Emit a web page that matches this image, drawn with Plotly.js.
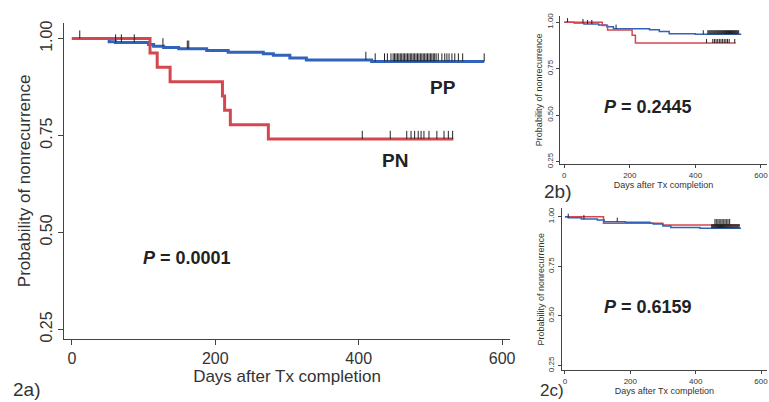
<!DOCTYPE html>
<html>
<head>
<meta charset="utf-8">
<script src="https://cdn.plot.ly/plotly-3.0.1.min.js"></script>
<style>html,body{margin:0;padding:0;background:#fff;}#chart{width:769px;height:402px;}</style>
</head>
<body>
<div id="chart"></div>
<script>
// ---------- Panel 2a ----------
const aPPTime = [0, 52, 61, 107, 114, 128, 149, 188, 218, 267, 281, 304, 327, 418, 575];
const aPPSurv = [1.0, 0.992, 0.990, 0.985, 0.980, 0.977, 0.974, 0.969, 0.965, 0.961, 0.957, 0.950, 0.945, 0.941, 0.941];
const aPNTime = [0, 109, 119, 137, 210, 213, 221, 274, 532];
const aPNSurv = [1.0, 0.963, 0.926, 0.889, 0.852, 0.815, 0.778, 0.741, 0.741];
const aPPCens = [11, 61, 69, 87, 127, 161, 163, 410, 423, 436, 440, 445, 448, 450, 452, 454, 456, 458, 460, 462, 464, 466, 468, 470, 472, 474, 476, 478, 480, 482, 484, 486, 488, 490, 492, 494, 496, 498, 500, 502, 504, 506, 508, 511, 516, 520, 523, 526, 530, 534, 539, 545, 575];
const aPNCens = [405, 444, 467, 473, 478, 483, 487, 491, 498, 509, 519, 525, 531];

// ---------- Panel 2b ----------
const bPPTime = [0, 30, 60, 105, 130, 150, 260, 290, 320, 400, 540];
const bPPSurv = [1.0, 0.995, 0.990, 0.985, 0.975, 0.965, 0.959, 0.950, 0.938, 0.935, 0.935];
const bPNTime = [0, 116, 132, 207, 217, 523];
const bPNSurv = [1.0, 0.982, 0.958, 0.930, 0.888, 0.888];
const bPPCens = [10, 57, 71, 84, 158, 424, 438, 441, 444, 447, 450, 453, 456, 459, 462, 465, 468, 471, 474, 477, 480, 483, 486, 489, 492, 495, 498, 501, 504, 507, 510, 513, 516, 519, 522, 525, 528, 532];
const bPNCens = [434, 453, 458, 463, 468, 473, 478, 483, 488, 493, 498, 503, 520];

// ---------- Panel 2c ----------
const cPPTime = [0, 10, 50, 99, 120, 185, 260, 270, 300, 324, 413, 539];
const cPPSurv = [1.0, 0.995, 0.988, 0.983, 0.975, 0.972, 0.967, 0.963, 0.953, 0.945, 0.942, 0.942];
const cPNTime = [0, 118, 299, 535];
const cPNSurv = [1.0, 0.967, 0.958, 0.958];
const cPPCens = [10, 58, 160, 449, 452, 455, 458, 461, 464, 467, 470, 473, 476, 479, 482, 485, 488, 491, 494, 497, 500, 503, 506, 509, 512, 515, 518, 521, 524, 527, 530, 533];
const cPNCens = [459, 463, 468, 472, 477, 481, 486, 490, 495, 499, 504];

const pValues = ["0.0001", "0.2445", "0.6159"];
const panelLabels = ["2a)", "2b)", "2c)"];
const yTickVals = [0.25, 0.5, 0.75, 1.0];
const yTickText = ["0.25", "0.50", "0.75", "1.00"];
const xTickVals = [0, 200, 400, 600];

const RED = '#d5474f';
const BLUE = '#3263bb';
const FONT = 'Liberation Sans, Arial, Helvetica, sans-serif';

function stepAt(times, surv, t) {
  let v = surv[0];
  for (let i = 0; i < times.length; i++) { if (times[i] <= t) v = surv[i]; }
  return v;
}
function curve(times, surv, color, w, xa, ya, name) {
  return {x: times, y: surv, type: 'scatter', mode: 'lines', line: {shape: 'hv', color: color, width: w},
          xaxis: xa, yaxis: ya, name: name, showlegend: false, hoverinfo: 'skip'};
}
function cens(cTimes, times, surv, len, xa, ya, thick) {
  return {x: cTimes, y: cTimes.map(t => stepAt(times, surv, t)), type: 'scatter', mode: 'markers',
          marker: {size: 1, color: 'rgba(0,0,0,0)'},
          error_y: {type: 'constant', symmetric: false, value: len, valueminus: 0, width: 0, thickness: thick, color: '#222'},
          xaxis: xa, yaxis: ya, showlegend: false, hoverinfo: 'skip'};
}

const data = [
  curve(aPPTime, aPPSurv, BLUE, 3, 'x', 'y', 'PP'),
  curve(aPNTime, aPNSurv, RED, 3, 'x', 'y', 'PN'),
  cens(aPPCens, aPPTime, aPPSurv, 0.021, 'x', 'y', 1),
  cens(aPNCens, aPNTime, aPNSurv, 0.021, 'x', 'y', 1),
  curve(bPPTime, bPPSurv, BLUE, 1.5, 'x2', 'y2', 'PP'),
  curve(bPNTime, bPNSurv, RED, 1.5, 'x2', 'y2', 'PN'),
  cens(bPPCens, bPPTime, bPPSurv, 0.022, 'x2', 'y2', 1),
  cens(bPNCens, bPNTime, bPNSurv, 0.022, 'x2', 'y2', 1),
  curve(cPNTime, cPNSurv, RED, 1.5, 'x3', 'y3', 'PN'),
  curve(cPPTime, cPPSurv, BLUE, 1.5, 'x3', 'y3', 'PP'),
  cens(cPPCens, cPPTime, cPPSurv, 0.02, 'x3', 'y3', 1),
  cens(cPNCens, cPNTime, cPNSurv, 0.03, 'x3', 'y3', 1)
];

function xax(domain, range, anchor, fs, tl, title, tfs, standoff) {
  return {domain: domain, range: range, anchor: anchor, tickvals: xTickVals, ticks: 'outside', ticklen: tl,
          tickcolor: '#444', showline: true, linecolor: '#444', linewidth: 1, showgrid: false, zeroline: false,
          ticklabeloverflow: 'allow',
          tickfont: {family: FONT, size: fs, color: '#333'}, automargin: false,
          title: {text: title, font: {family: FONT, size: tfs, color: '#333'}, standoff: standoff}};
}
function yax(domain, range, anchor, fs, tl, title, tfs, standoff) {
  return {domain: domain, range: range, anchor: anchor, tickvals: yTickVals, ticktext: yTickText, tickangle: -90,
          ticks: 'outside', ticklen: tl, tickcolor: '#444', showline: true, linecolor: '#444', linewidth: 1,
          showgrid: false, zeroline: false, tickfont: {family: FONT, size: fs, color: '#333'}, automargin: false,
          title: {text: title, font: {family: FONT, size: tfs, color: '#333'}, standoff: standoff}};
}

const layout = {
  width: 769, height: 402, margin: {l: 0, r: 0, t: 0, b: 0}, paper_bgcolor: '#fff', plot_bgcolor: '#fff',
  showlegend: false,
  xaxis: xax([0.0832, 0.6632], [-11, 611], 'y', 16, 5, 'Days after Tx completion', 17, 2),
  yaxis: yax([0.1567, 0.9435], [0.225, 1.041], 'x', 16, 5, 'Probability of nonrecurrence', 17, 2),
  xaxis2: xax([0.7282, 0.9974], [-13.1, 618.4], 'y2', 8, 3, 'Days after Tx completion', 9, 1),
  yaxis2: yax([0.592, 0.961], [0.2376, 1.035], 'x2', 8, 3, 'Probability of nonrecurrence', 9, 1),
  xaxis3: xax([0.7304, 0.9974], [-10.1, 618.3], 'y3', 8, 3, 'Days after Tx completion', 9, 1),
  yaxis3: yax([0.0796, 0.4818], [0.228, 1.042], 'x3', 8, 3, 'Probability of nonrecurrence', 9, 1),
  annotations: [
    {xref: 'x', yref: 'y', x: 518, y: 0.873, text: '<b>PP</b>', showarrow: false, font: {family: FONT, size: 19, color: '#222'}},
    {xref: 'x', yref: 'y', x: 451, y: 0.685, text: '<b>PN</b>', showarrow: false, font: {family: FONT, size: 19, color: '#222'}},
    {xref: 'x', yref: 'y', x: 161, y: 0.435, text: '<b><i>P</i> = ' + pValues[0] + '</b>', showarrow: false, font: {family: FONT, size: 18, color: '#222'}},
    {xref: 'x2', yref: 'y2', x: 255, y: 0.546, text: '<b><i>P</i> = ' + pValues[1] + '</b>', showarrow: false, font: {family: FONT, size: 18, color: '#222'}},
    {xref: 'x3', yref: 'y3', x: 255, y: 0.544, text: '<b><i>P</i> = ' + pValues[2] + '</b>', showarrow: false, font: {family: FONT, size: 18, color: '#222'}},
    {xref: 'paper', yref: 'paper', x: 0.014, y: 0.03, xanchor: 'left', yanchor: 'middle', text: panelLabels[0], showarrow: false, font: {family: FONT, size: 19, color: '#333'}},
    {xref: 'paper', yref: 'paper', x: 0.705, y: 0.523, xanchor: 'left', yanchor: 'middle', text: panelLabels[1], showarrow: false, font: {family: FONT, size: 19, color: '#333'}},
    {xref: 'paper', yref: 'paper', x: 0.699, y: 0.0, xanchor: 'left', yanchor: 'bottom', text: panelLabels[2], showarrow: false, font: {family: FONT, size: 17, color: '#333'}}
  ]
};

Plotly.newPlot('chart', data, layout, {displayModeBar: false, staticPlot: true});
</script>
</body>
</html>
